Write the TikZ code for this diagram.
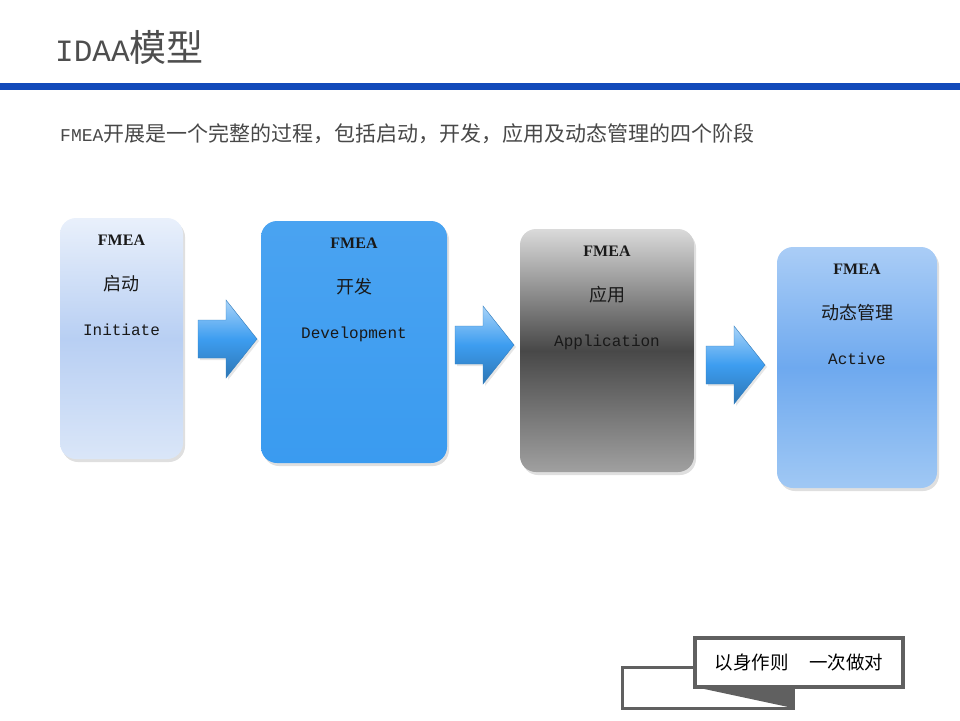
\documentclass[tikz,border=0pt]{standalone}
\usepackage{fontspec}
\setmainfont{Liberation Serif}
\setmonofont{Liberation Mono}
\newfontfamily\cjk{Noto Sans CJK SC}
\usetikzlibrary{positioning,shadows}

\definecolor{barblue}{RGB}{18,74,186}
\definecolor{titlegray}{RGB}{78,78,78}
\definecolor{textgray}{RGB}{72,72,72}
\definecolor{devblue}{RGB}{58,155,240}
\definecolor{arrowblue}{RGB}{61,157,240}
\definecolor{calloutgray}{RGB}{96,96,96}

\begin{document}
\begin{tikzpicture}[x=1pt, y=-1pt,
    stage/.style = {rounded corners=16pt, inner sep=0pt,
        drop shadow={opacity=0.25, shadow xshift=2pt, shadow yshift=-3pt}},
    stagetext/.style = {align=center, inner sep=0pt, text=black!90,
        font=\fontsize{16}{45}\selectfont},
    flowarrow/.style = {top color=arrowblue!45!white, bottom color=arrowblue!75!black,
        middle color=arrowblue, draw=arrowblue!80!black, line width=0.4pt,
        drop shadow={opacity=0.2, shadow xshift=2pt, shadow yshift=-2pt}},
    callout/.style = {draw=calloutgray, line width=4pt, fill=white,
        minimum width=208pt, minimum height=49pt, inner sep=0pt,
        font=\fontsize{18.5}{20}\selectfont\cjk}]
    \useasboundingbox (0,0) rectangle (960,720);

    % heading and rule
    \node[anchor=west, inner sep=0pt, text=titlegray] (title) at (55,47)
        {{\fontsize{31}{34}\selectfont\ttfamily IDAA}{\fontsize{37}{40}\selectfont\cjk 模型}};
    \fill[barblue] (0,83) rectangle (960,90);
    \node[anchor=west, inner sep=0pt, text=textgray] (intro) at (60,134)
        {{\fontsize{18}{22}\selectfont\ttfamily FMEA}{\fontsize{21}{22}\selectfont\cjk 开展是一个完整的过程，包括启动，开发，应用及动态管理的四个阶段}};

    % four stages
    \node[stage, minimum width=123pt, minimum height=241pt,
        top color={rgb,255:red,233;green,240;blue,251},
        bottom color={rgb,255:red,218;green,230;blue,248},
        middle color={rgb,255:red,184;green,207;blue,243}] (init) at (121.5,338.5) {};
    \node[stage, minimum width=186pt, minimum height=242pt,
        top color=devblue!92!white, bottom color=devblue] (dev) at (354,342) {};
    \node[stage, minimum width=174pt, minimum height=243pt,
        top color={rgb,255:red,218;green,218;blue,218},
        bottom color={rgb,255:red,160;green,160;blue,160},
        middle color={rgb,255:red,72;green,72;blue,72}] (app) at (607,350.5) {};
    \node[stage, minimum width=160pt, minimum height=241pt,
        top color={rgb,255:red,170;green,205;blue,246},
        bottom color={rgb,255:red,160;green,200;blue,244},
        middle color={rgb,255:red,110;green,169;blue,239}] (act) at (857,367.5) {};

    \node[stagetext, below=17pt of init.north] (initText)
        {\textbf{FMEA}\\{\fontsize{18}{45}\selectfont\cjk 启动}\\\texttt{Initiate}};
    \node[stagetext, below=17pt of dev.north] (devText)
        {\textbf{FMEA}\\{\fontsize{18}{45}\selectfont\cjk 开发}\\\texttt{Development}};
    \node[stagetext, below=17pt of app.north] (appText)
        {\textbf{FMEA}\\{\fontsize{18}{45}\selectfont\cjk 应用}\\\texttt{Application}};
    \node[stagetext, below=17pt of act.north] (actText)
        {\textbf{FMEA}\\{\fontsize{18}{45}\selectfont\cjk 动态管理}\\\texttt{Active}};

    % block arrows between the stages
    \foreach \x/\y in {198/339, 455/345, 706/365}
        \path[flowarrow, shift={(\x,\y)}]
            (0,-19) -- (28,-19) -- (28,-39) -- (59,0) -- (28,39) -- (28,19) -- (0,19) -- cycle;

    % motto card
    \draw[calloutgray, line width=3pt, fill=white] (622,667) rectangle (793,708);
    \fill[calloutgray] (695,687) -- (793,687) -- (793,708) -- cycle;
    \node[callout, drop shadow={opacity=0.2, shadow xshift=2pt, shadow yshift=-2pt}] (motto)
        at (799,662.5) {以身作则\hspace{1.1em}一次做对};
\end{tikzpicture}
\end{document}
